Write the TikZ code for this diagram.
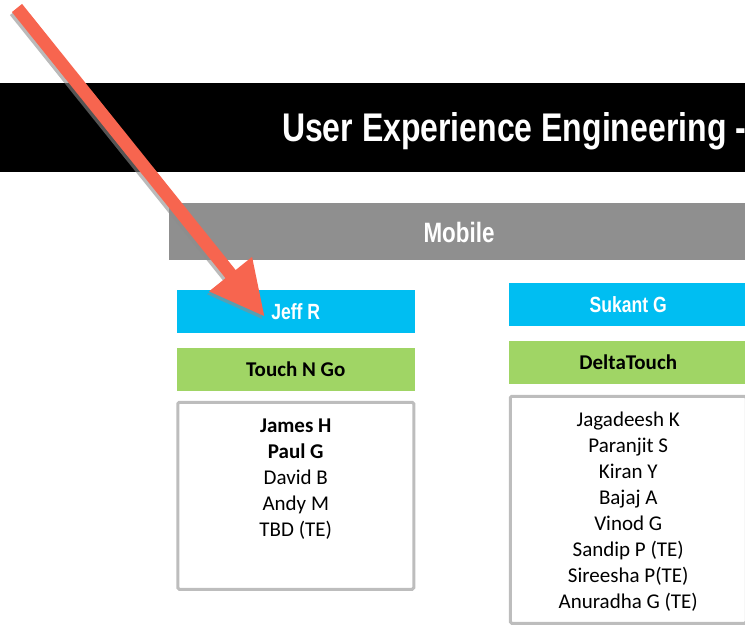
\documentclass[tikz,border=0pt]{standalone}
\usepackage{fontspec}
\usepackage{xcolor}
\usetikzlibrary{positioning, arrows.meta}
\newfontfamily\narrowsans[FakeStretch=0.8]{Liberation Sans}
\newfontfamily\calibrisans{Carlito}
\definecolor{leadcyan}{HTML}{00BEF2}
\definecolor{projgreen}{HTML}{A0D565}
\definecolor{bargray}{HTML}{8F8F8F}
\definecolor{boxgray}{HTML}{BDBDBD}
\definecolor{pointred}{HTML}{F7654F}

\begin{document}
\begin{tikzpicture}[
        x=1pt, y=-1pt,
        every node/.style={inner sep=0pt, outer sep=0pt},
        banner/.style={fill=black, rectangle, minimum height=89pt, minimum width=760pt},
        section/.style={fill=bargray, rectangle, minimum height=56.6pt, minimum width=580pt, text=white, font=\narrowsans\bfseries\fontsize{28}{32}\selectfont},
        lead/.style={fill=leadcyan, rectangle, minimum height=42.5pt, minimum width=238.5pt, text=white, font=\narrowsans\bfseries\fontsize{22}{26}\selectfont},
        project/.style={fill=projgreen, rectangle, minimum height=42.5pt, minimum width=238.5pt, font=\calibrisans\bfseries\fontsize{21}{26}\selectfont},
        team/.style={draw=boxgray, line width=3pt, rectangle, rounded corners=1.5pt, minimum width=236pt},
        members/.style={align=center, font=\calibrisans\fontsize{21}{26}\selectfont},
        pointer/.style={line width=13pt, -{Triangle[length=55pt, width=51pt]}}
    ]

    \useasboundingbox (0,0) rectangle (745,626);

    \node[banner, anchor=north west] (header) at (0,83) {};
    \node[anchor=base west, text=white, font=\narrowsans\bfseries\fontsize{40}{48}\selectfont] (title) at (282,142) {User Experience Engineering -};

    \node[section, anchor=north west] (mobile) at (169,203) {};
    \node[text=white, font=\narrowsans\bfseries\fontsize{28}{32}\selectfont, below=1.5pt of mobile.center, anchor=center] (mobiletext) {Mobile};

    \node[lead] (jeff) at (295.75,311.25) {Jeff R};
    \node[project, below=15.8pt of jeff] (touchngo) {Touch N Go};
    \node[team, minimum height=187pt, below=11.5pt of touchngo] (tngteam) {};
    \node[members, anchor=north, below=16.5pt of tngteam.north] (tngnames) {\textbf{James H}\\ \textbf{Paul G}\\ David B\\ Andy M\\ TBD (TE)};

    \node[lead] (sukant) at (628.25,304.5) {Sukant G};
    \node[project, below=15.3pt of sukant] (deltatouch) {DeltaTouch};
    \node[team, minimum height=227pt, below=12.8pt of deltatouch] (deltateam) {};
    \node[members, anchor=north, below=15.5pt of deltateam.north] (deltanames) {Jagadeesh K\\ Paranjit S\\ Kiran Y\\ Bajaj A\\ Vinod G\\ Sandip P (TE)\\ Sireesha P(TE)\\ Anuradha G (TE)};

    \coordinate (arrowtail) at (17,8);
    \coordinate (arrowtip) at (265,317);
    \draw[pointer, draw=black!45, fill=black!45, opacity=0.6, transform canvas={shift={(-2pt,-3pt)}}] (arrowtail) -- (arrowtip);
    \draw[pointer, draw=pointred, fill=pointred] (arrowtail) -- (arrowtip);

\end{tikzpicture}
\end{document}
